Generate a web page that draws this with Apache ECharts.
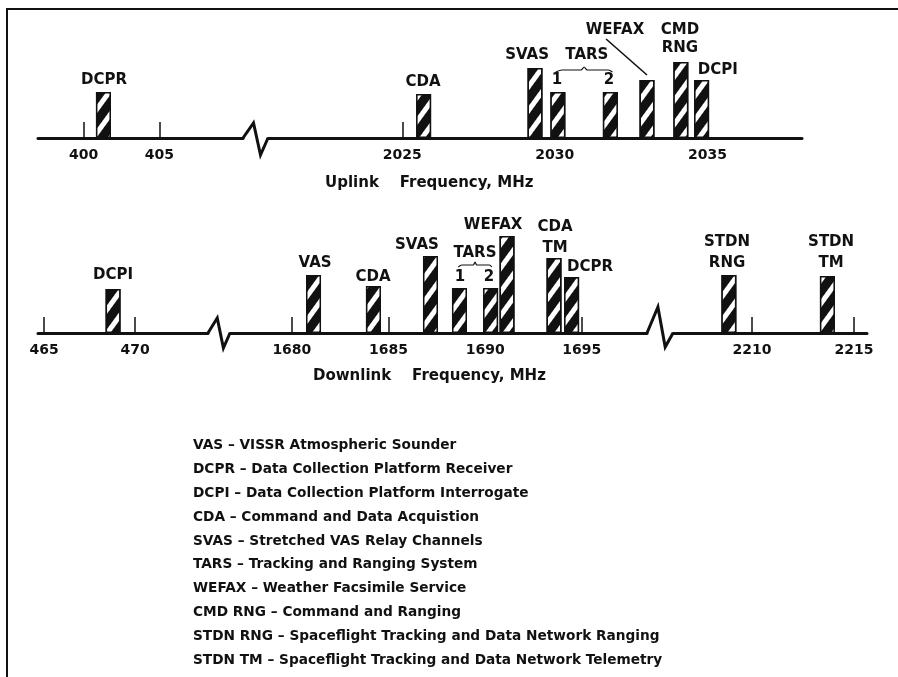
<!DOCTYPE html>
<html>
<head>
<meta charset="utf-8">
<script src="https://cdn.jsdelivr.net/npm/echarts@6/dist/echarts.min.js"></script>
<style>
  html, body { margin: 0; padding: 0; background: #fff; }
  #chart { width: 898px; height: 677px; }
</style>
</head>
<body>
<div id="chart"></div>
<script>
  // uplink channels
  const upBarNames = ['DCPR', 'CDA', 'SVAS', 'TARS 1', 'TARS 2', 'WEFAX', 'CMD RNG', 'DCPI']
  const upBarFreq = [401.31, 2025.70, 2029.35, 2030.10, 2031.82, 2033.02, 2034.13, 2034.81]
  const upBarLevel = [46, 44, 70, 46, 46, 58, 76, 58]
  const upTicks = [[400, 405], [2025, 2030, 2035]]
  const upRanges = [[397, 410.5], [2020.6, 2038.1]]
  const upLabelText = ['DCPR', 'CDA', 'SVAS', 'TARS', '1', '2', 'WEFAX', 'CMD\nRNG', 'DCPI']
  const upLabelFreq = [401.35, 2025.68, 2029.09, 2031.05, 2030.07, 2031.77, 2031.97, 2034.10, 2035.34]
  const upLabelLevel = [58, 56, 83, 83, 58, 58, 108, 99, 68]

  // downlink channels
  const downBarNames = ['DCPI', 'VAS', 'CDA', 'SVAS', 'TARS 1', 'TARS 2', 'WEFAX', 'CDA TM', 'DCPR', 'STDN RNG', 'STDN TM']
  const downBarFreq = [468.79, 1681.12, 1684.22, 1687.17, 1688.67, 1690.28, 1691.13, 1693.56, 1694.47, 2208.87, 2213.70]
  const downBarLevel = [44, 58, 47, 77, 45, 45, 97, 75, 56, 58, 57]
  const downTicks = [[465, 470], [1680, 1685, 1690, 1695], [2210, 2215]]
  const downRanges = [[464.67, 474.0], [1676.8, 1698.37], [2206.13, 2215.64]]
  const downLabelText = ['DCPI', 'VAS', 'CDA', 'SVAS', 'TARS', '1', '2', 'WEFAX', 'CDA\nTM', 'DCPR', 'STDN\nRNG', 'STDN\nTM']
  const downLabelFreq = [468.79, 1681.2, 1684.2, 1686.47, 1689.47, 1688.70, 1690.20, 1690.41, 1693.61, 1695.42, 2208.78, 2213.88]
  const downLabelLevel = [58, 70, 56, 88, 80, 56, 56, 108, 95.5, 66, 80.5, 80.5]

  // glossary
  const glossAbbr = ['VAS', 'DCPR', 'DCPI', 'CDA', 'SVAS', 'TARS', 'WEFAX', 'CMD RNG', 'STDN RNG', 'STDN TM']
  const glossDesc = [
    'VISSR Atmospheric Sounder',
    'Data Collection Platform Receiver',
    'Data Collection Platform Interrogate',
    'Command and Data Acquistion',
    'Stretched VAS Relay Channels',
    'Tracking and Ranging System',
    'Weather Facsimile Service',
    'Command and Ranging',
    'Spaceflight Tracking and Data Network Ranging',
    'Spaceflight Tracking and Data Network Telemetry'
  ]

  const FONT = '"DejaVu Sans", sans-serif'
  const INK = '#111'

  // pixel layout of each axis segment
  const rows = [
    {ranges: upRanges, ticks: upTicks, px: [[38, 243], [268, 802]], axisY: 138, lineHeight: 18,
     bars: [upBarFreq, upBarLevel], labels: [upLabelText, upLabelFreq, upLabelLevel],
     breaks: [[15, 17]], tars: [3, 4], braceY: 68},
    {ranges: downRanges, ticks: downTicks, px: [[38, 208], [230, 647], [673, 867]], axisY: 333, lineHeight: 21,
     bars: [downBarFreq, downBarLevel], labels: [downLabelText, downLabelFreq, downLabelLevel],
     breaks: [[15, 15], [26, 14]], tars: [4, 5], braceY: 68}
  ]
  const H = 130

  let grids = [], xAxes = [], yAxes = [], series = [], graphics = []

  function segOf(f, ranges) {
    return ranges.findIndex(([lo, hi]) => f >= lo && f <= hi)
  }

  rows.forEach((row) => {
    let base = grids.length
    row.ranges.forEach(([lo, hi], s) => {
      let [l, r] = row.px[s]
      grids.push({left: l, top: row.axisY - H, width: r - l, height: H})
      let idx = base + s
      xAxes.push({
        type: 'value', gridIndex: idx, min: lo, max: hi,
        axisLine: {show: true, onZero: false, lineStyle: {color: INK, width: 3}},
        axisTick: {show: true, inside: true, length: 16, customValues: row.ticks[s], lineStyle: {color: INK, width: 1.5}},
        axisLabel: {
          customValues: row.ticks[s], margin: 10, formatter: (v) => String(v),
          color: INK, fontFamily: FONT, fontSize: 14, fontWeight: 'bold'
        },
        splitLine: {show: false}
      })
      yAxes.push({type: 'value', gridIndex: idx, min: 0, max: H, show: false})

      let [freqs, levels] = row.bars
      series.push({
        type: 'bar', xAxisIndex: idx, yAxisIndex: idx, barWidth: 15, z: 3,
        data: freqs.map((f, k) => [f, levels[k]]).filter(([f]) => segOf(f, row.ranges) === s),
        itemStyle: {
          color: INK, borderColor: INK, borderWidth: 1.5,
          decal: {symbol: 'rect', symbolSize: 1, color: '#fff', dashArrayX: [1, 0], dashArrayY: [5, 9], rotation: -Math.PI * 0.3}
        }
      })

      let [texts, lf, ll] = row.labels
      series.push({
        type: 'scatter', xAxisIndex: idx, yAxisIndex: idx, symbolSize: 1, z: 4,
        itemStyle: {color: 'rgba(0,0,0,0)', opacity: 1},
        data: texts.map((t, k) => [lf[k], ll[k], t]).filter(([f]) => segOf(f, row.ranges) === s),
        label: {
          show: true, position: 'inside', formatter: (p) => p.data[2],
          color: INK, fontFamily: FONT, fontSize: 15, fontWeight: 'bold', lineHeight: row.lineHeight
        }
      })
    })

    // brace over the two TARS channels
    let [f1, f2] = row.tars.map((k) => row.bars[0][k])
    let idx = base + segOf(f1, row.ranges)
    let span = f2 - f1
    let y0 = row.braceY
    series.push({
      type: 'line', xAxisIndex: idx, yAxisIndex: idx, symbol: 'none', smooth: 0.3, z: 4,
      lineStyle: {color: INK, width: 1.2},
      data: [[f1 - span * 0.04, y0 - 2], [f1 + span * 0.08, y0], [f1 + span * 0.44, y0], [f1 + span * 0.5, y0 + 3],
             [f1 + span * 0.56, y0], [f2 - span * 0.04, y0], [f2 + span * 0.04, y0 - 2]]
    })

    // axis breaks
    row.breaks.forEach(([up, down], b) => {
      let xL = row.px[b][1], xR = row.px[b + 1][0], y = row.axisY
      graphics.push({
        type: 'polyline', z: 10,
        shape: {points: [[xL, y], [xL + (xR - xL) * 0.42, y - up], [xL + (xR - xL) * 0.7, y + down], [xR, y]]},
        style: {stroke: INK, lineWidth: 3, fill: null, lineJoin: 'miter'}
      })
    })
  })

  // WEFAX leader on uplink
  {
    let k = upBarNames.indexOf('WEFAX')
    let idx = segOf(upBarFreq[k], upRanges)
    series.push({
      type: 'line', xAxisIndex: idx, yAxisIndex: idx, symbol: 'none', z: 4,
      lineStyle: {color: INK, width: 1.6},
      data: [[upBarFreq[k] - 1.34, upBarLevel[k] + 41], [upBarFreq[k], upBarLevel[k] + 5]]
    })
  }

  // frame
  graphics.push({
    type: 'polyline', z: 10,
    shape: {points: [[7, 677], [7, 9], [898, 9]]},
    style: {stroke: INK, lineWidth: 2, fill: null}
  })

  let chart = echarts.init(document.getElementById('chart'))
  chart.setOption({
    animation: false,
    backgroundColor: '#fff',
    title: [
      {text: 'Uplink    Frequency, MHz', left: 325, top: 176, padding: 0,
       textStyle: {color: INK, fontFamily: FONT, fontSize: 15, fontWeight: 'bold'}},
      {text: 'Downlink    Frequency, MHz', left: 313, top: 369, padding: 0,
       textStyle: {color: INK, fontFamily: FONT, fontSize: 15, fontWeight: 'bold'}},
      {text: glossAbbr.map((a, i) => a + ' \u2013 ' + glossDesc[i]).join('\n'), left: 193, top: 434, padding: 0,
       textStyle: {color: INK, fontFamily: FONT, fontSize: 13.7, fontWeight: 'bold', lineHeight: 23.8}}
    ],
    grid: grids,
    xAxis: xAxes,
    yAxis: yAxes,
    series: series,
    graphic: graphics
  })
</script>
</body>
</html>
